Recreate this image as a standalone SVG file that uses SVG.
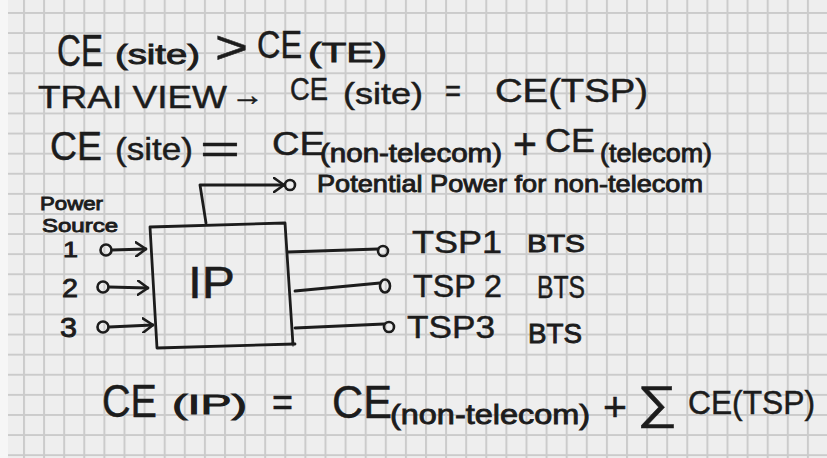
<svg xmlns="http://www.w3.org/2000/svg" width="827" height="458" viewBox="0 0 827 458">
<style>
.t{font-family:"Liberation Sans",Arial,"DejaVu Sans",sans-serif;fill:#1c1c1c;stroke:#1c1c1c;stroke-width:0.5}
.s{stroke-width:0.9}
.ln{fill:none;stroke:#1c1c1c;stroke-width:2.8;stroke-linecap:round;stroke-linejoin:round}
.pt{fill:none;stroke:#1c1c1c;stroke-width:2.6}
</style>
<defs>
<pattern id="grid" patternUnits="userSpaceOnUse" x="23" y="12" width="20.1" height="20.1">
<rect width="20.1" height="20.1" fill="#eeeeee"/>
<path d="M1,0V20.1M0,1H20.1" stroke="#cbcbcb" stroke-width="2"/>
</pattern>
<marker id="chev" viewBox="0 0 12 16" refX="11" refY="8" markerWidth="12" markerHeight="16" markerUnits="userSpaceOnUse" orient="auto">
<path d="M1,1L11,8L1,15" fill="none" stroke="#1c1c1c" stroke-width="2.6" stroke-linecap="round" stroke-linejoin="round"/>
</marker>
</defs>
<rect width="827" height="458" fill="url(#grid)"/>
<rect width="8" height="458" fill="#f6f6f6"/>

<g id="eq1">
<text class="t" x="57" y="66" font-size="44" textLength="46" lengthAdjust="spacingAndGlyphs">CE</text>
<text class="t s" x="115" y="64" font-size="28" textLength="85" lengthAdjust="spacingAndGlyphs">(site)</text>
<text class="t" x="215" y="63" font-size="46" textLength="33" lengthAdjust="spacingAndGlyphs">&gt;</text>
<text class="t" x="257" y="58" font-size="38" textLength="45" lengthAdjust="spacingAndGlyphs">CE</text>
<text class="t s" x="308" y="62" font-size="28" textLength="79" lengthAdjust="spacingAndGlyphs">(TE)</text>
</g>

<g id="eq2">
<text class="t" x="38" y="108" font-size="32" textLength="189" lengthAdjust="spacingAndGlyphs">TRAI VIEW</text>
<text class="t" x="231" y="105" font-size="30" textLength="33" lengthAdjust="spacingAndGlyphs">→</text>
<text class="t" x="290" y="100" font-size="32" textLength="38" lengthAdjust="spacingAndGlyphs">CE</text>
<text class="t" x="343" y="104" font-size="30" textLength="80" lengthAdjust="spacingAndGlyphs">(site)</text>
<text class="t" x="445" y="101" font-size="30" textLength="16" lengthAdjust="spacingAndGlyphs">=</text>
<text class="t" x="495" y="102" font-size="34" textLength="153" lengthAdjust="spacingAndGlyphs">CE(TSP)</text>
</g>

<g id="eq3">
<text class="t" x="50" y="160" font-size="40" textLength="52" lengthAdjust="spacingAndGlyphs">CE</text>
<text class="t" x="115" y="160" font-size="32" textLength="78" lengthAdjust="spacingAndGlyphs">(site)</text>
<text class="t" x="200" y="163" font-size="40" textLength="40" lengthAdjust="spacingAndGlyphs">=</text>
<text class="t" x="272" y="155" font-size="34" textLength="53" lengthAdjust="spacingAndGlyphs">CE</text>
<text class="t s" x="320" y="162" font-size="26" textLength="182" lengthAdjust="spacingAndGlyphs">(non-telecom)</text>
<text class="t" x="513" y="159" font-size="44" textLength="24" lengthAdjust="spacingAndGlyphs">+</text>
<text class="t" x="545" y="152" font-size="34" textLength="50" lengthAdjust="spacingAndGlyphs">CE</text>
<text class="t s" x="600" y="162" font-size="26" textLength="112" lengthAdjust="spacingAndGlyphs">(telecom)</text>
</g>

<g id="potential-power">
<circle class="pt" cx="290" cy="185" r="5"/>
<text class="t s" x="317" y="192" font-size="24" textLength="386" lengthAdjust="spacingAndGlyphs">Potential Power for non-telecom</text>
</g>

<g id="power-source">
<text class="t s" x="40" y="210" font-size="19" textLength="63" lengthAdjust="spacingAndGlyphs">Power</text>
<text class="t s" x="42" y="232" font-size="19" textLength="76" lengthAdjust="spacingAndGlyphs">Source</text>
</g>

<g id="source1">
<text class="t s" x="63" y="257" font-size="22" textLength="15" lengthAdjust="spacingAndGlyphs">1</text>
<circle class="pt" cx="106" cy="250" r="5.5"/>
</g>
<g id="source2">
<text class="t s" x="62" y="297" font-size="26" textLength="16" lengthAdjust="spacingAndGlyphs">2</text>
<circle class="pt" cx="103" cy="287" r="5.5"/>
</g>
<g id="source3">
<text class="t s" x="60" y="337" font-size="27" textLength="17" lengthAdjust="spacingAndGlyphs">3</text>
<circle class="pt" cx="103" cy="327" r="5.5"/>
</g>

<g id="ip">
<path class="ln" d="M150,227L285,223L293,345M157,348L150,227M157,348L295,344"/>
<text class="t" x="188" y="298" font-size="44" textLength="47" lengthAdjust="spacingAndGlyphs">IP</text>
</g>

<g id="tsp1">
<circle class="pt" cx="383" cy="251" r="5"/>
<text class="t" x="412" y="253" font-size="32" textLength="90" lengthAdjust="spacingAndGlyphs">TSP1</text>
<text class="t s" x="527" y="252" font-size="24" textLength="58" lengthAdjust="spacingAndGlyphs">BTS</text>
</g>
<g id="tsp2">
<ellipse class="pt" cx="385" cy="286" rx="5" ry="6.5"/>
<text class="t" x="413" y="297" font-size="32" textLength="89" lengthAdjust="spacingAndGlyphs">TSP 2</text>
<text class="t" x="537" y="298" font-size="32" textLength="48" lengthAdjust="spacingAndGlyphs">BTS</text>
</g>
<g id="tsp3">
<circle class="pt" cx="389" cy="327" r="5"/>
<text class="t" x="407" y="338" font-size="32" textLength="88" lengthAdjust="spacingAndGlyphs">TSP3</text>
<text class="t s" x="528" y="343" font-size="28" textLength="54" lengthAdjust="spacingAndGlyphs">BTS</text>
</g>

<g id="connectors">
<path class="ln" d="M206,223L200,185L284,185" marker-end="url(#chev)"/>
<path class="ln" d="M112,250L146,249" marker-end="url(#chev)"/>
<path class="ln" d="M109,287L148,288" marker-end="url(#chev)"/>
<path class="ln" d="M109,327L153,325" marker-end="url(#chev)"/>
<path class="ln" d="M288,252L378,249"/>
<path class="ln" d="M295,291L380,283"/>
<path class="ln" d="M295,328L384,324"/>
</g>

<g id="eq4">
<text class="t" x="102" y="417" font-size="46" textLength="55" lengthAdjust="spacingAndGlyphs">CE</text>
<text class="t s" x="172" y="414" font-size="28" textLength="75" lengthAdjust="spacingAndGlyphs">(IP)</text>
<text class="t" x="272" y="416" font-size="40" textLength="21" lengthAdjust="spacingAndGlyphs">=</text>
<text class="t" x="332" y="418" font-size="46" textLength="60" lengthAdjust="spacingAndGlyphs">CE</text>
<text class="t s" x="390" y="424" font-size="28" textLength="200" lengthAdjust="spacingAndGlyphs">(non-telecom)</text>
<text class="t" x="603" y="421" font-size="40" textLength="24" lengthAdjust="spacingAndGlyphs">+</text>
<text class="t" x="637" y="418" font-size="46" textLength="40" lengthAdjust="spacingAndGlyphs">∑</text>
<text class="t" x="688" y="414" font-size="34" textLength="127" lengthAdjust="spacingAndGlyphs">CE(TSP)</text>
</g>
</svg>
